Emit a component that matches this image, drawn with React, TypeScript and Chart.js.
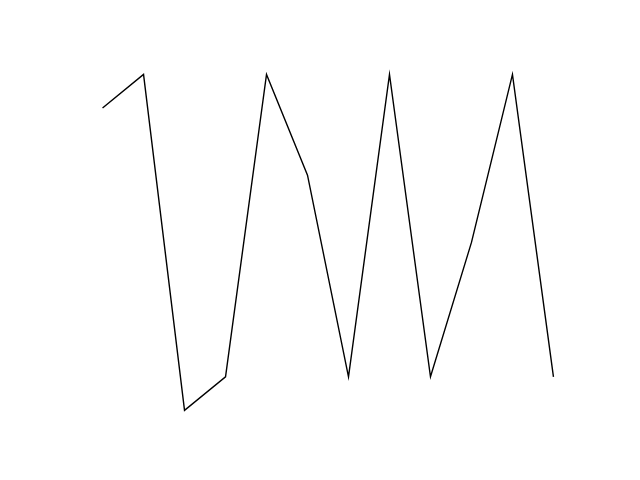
import React, { useEffect, useRef } from "react";
import { Chart, registerables } from "chart.js";

Chart.register(...registerables);

const xValues = [0, 1, 2, 3, 4, 5, 6, 7, 8, 9, 10, 11];
const yValues = [9, 10, 0, 1, 10, 7, 1, 10, 1, 5, 10, 1];

export default function App() {
  const ref = useRef<HTMLCanvasElement | null>(null);

  useEffect(() => {
    if (!ref.current) return;
    const chart = new Chart(ref.current, {
      type: "line",
      data: {
        datasets: [
          {
            data: xValues.map((x, i) => ({ x, y: yValues[i] })),
            borderColor: "#000000",
            borderWidth: 1.4,
            pointRadius: 0,
            tension: 0,
            fill: false,
          },
        ],
      },
      options: {
        responsive: false,
        animation: false,
        layout: { padding: { left: 80, right: 64, top: 57.6, bottom: 52.8 } },
        plugins: { legend: { display: false }, tooltip: { enabled: false } },
        scales: {
          x: { type: "linear", min: -0.55, max: 11.55, display: false },
          y: { type: "linear", min: -0.5, max: 10.5, display: false },
        },
      },
    });
    return () => chart.destroy();
  }, []);

  return (
    <canvas
      ref={ref}
      width={640}
      height={480}
      style={{ position: "fixed", left: 0, top: 0, width: 640, height: 480, background: "#fff" }}
    />
  );
}
